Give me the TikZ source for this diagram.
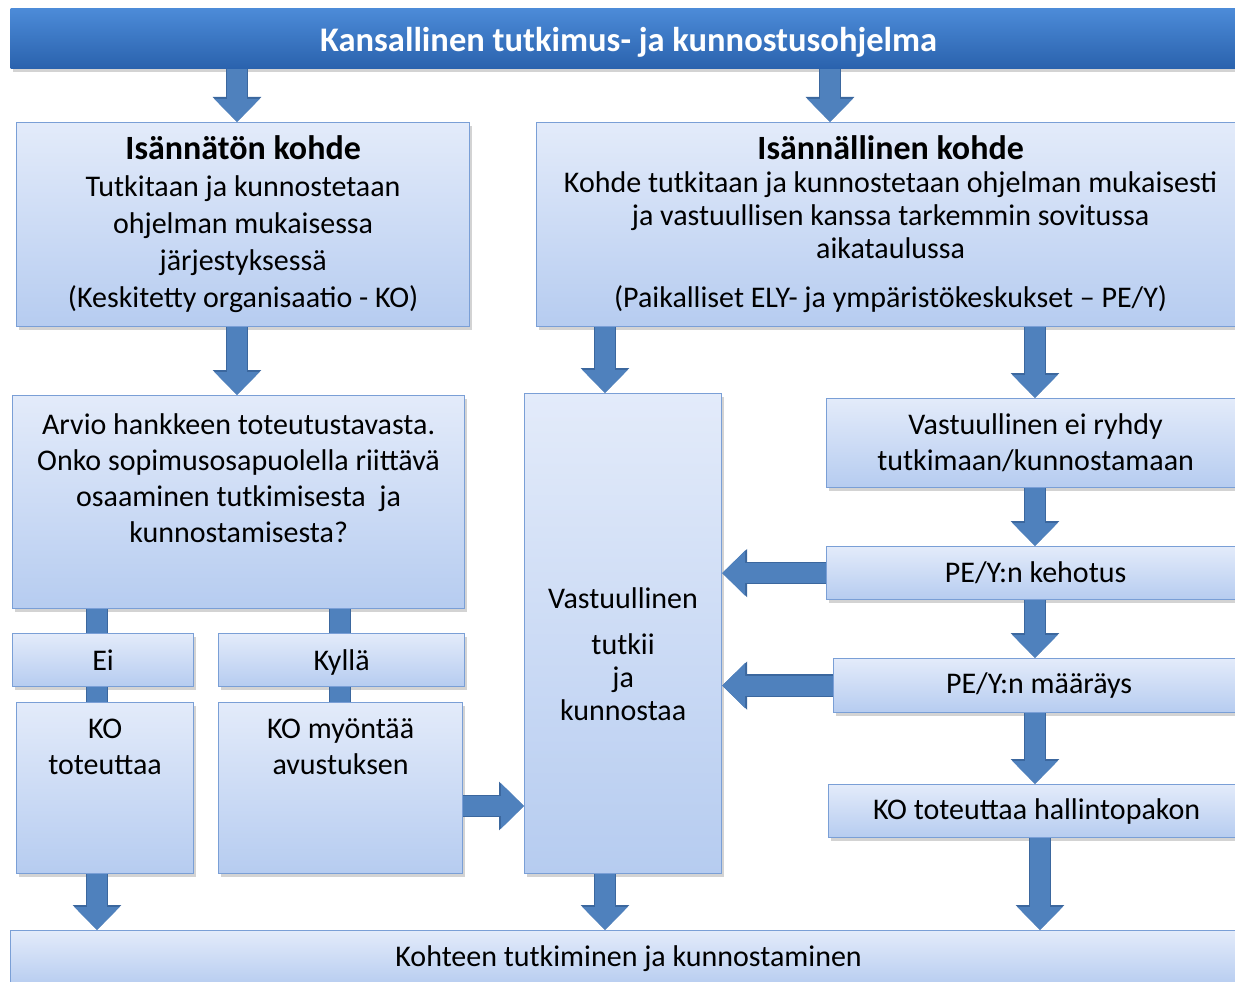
\documentclass[tikz,border=0pt]{standalone}
\usepackage{fontspec}
\setmainfont{Carlito}
\usepackage{xcolor}
\usetikzlibrary{arrows.meta,shadows}
\definecolor{boxtop}{HTML}{E3EBFA}
\definecolor{boxbot}{HTML}{B6CCF0}
\definecolor{boxline}{HTML}{7A9FD6}
\definecolor{bantop}{HTML}{4C8BD8}
\definecolor{banbot}{HTML}{2A62AD}
\definecolor{arrowblue}{HTML}{4F81BD}
\definecolor{arrowedge}{HTML}{3B679E}

\begin{document}
\begin{tikzpicture}[x=1pt,y=-1pt,font=\fontsize{30}{36}\selectfont,
  box/.style={draw=boxline,line width=1.2pt,top color=boxtop,bottom color=boxbot,anchor=north west,inner sep=0pt,align=center,
    drop shadow={shadow xshift=2pt,shadow yshift=-3pt,opacity=0.35}},
  banner/.style={box,draw=none,top color=bantop,bottom color=banbot,text=white,font=\fontsize{34.5}{36}\selectfont\bfseries},
  toptext/.style={anchor=north,align=center,yshift=-13pt},
  flow/.style={arrowblue,line width=20pt,-{Triangle[width=44pt,length=23pt]},
    preaction={draw=arrowedge,line width=22.5pt,-{Triangle[width=47pt,length=25pt]}}},
  link/.style={arrowblue,line width=20pt,preaction={draw=arrowedge,line width=22.5pt}}]
\useasboundingbox(0,0)rectangle(1235,982);
\clip(0,0)rectangle(1235,982);
\node[banner,minimum width=1236pt,minimum height=60pt,text height=27pt,text depth=1pt](ohjelma)at(10,8){Kansallinen tutkimus- ja kunnostusohjelma};
\node[box,minimum width=453pt,minimum height=204pt,font=\fontsize{30}{37}\selectfont](isannaton)at(16,122){{\fontsize{34}{37}\selectfont\bfseries Isännätön kohde}\\Tutkitaan ja kunnostetaan\\ohjelman mukaisessa\\järjestyksessä\\(Keskitetty organisaatio - KO)};
\node[box,minimum width=708pt,minimum height=204pt,font=\fontsize{30}{33}\selectfont](isannallinen)at(536,122){{\fontsize{34}{33}\selectfont\bfseries Isännällinen kohde}\\Kohde tutkitaan ja kunnostetaan ohjelman mukaisesti\\ja vastuullisen kanssa tarkemmin sovitussa\\aikataulussa\\[16pt](Paikalliset ELY- ja ympäristökeskukset -- PE/Y)};
\node[box,minimum width=452pt,minimum height=213pt,label={[toptext,yshift=-2pt]north:Arvio hankkeen toteutustavasta.\\Onko sopimusosapuolella riittävä\\osaaminen tutkimisesta\ \ ja\\kunnostamisesta?}](arvio)at(12,395){};
\node[box,minimum width=197pt,minimum height=480pt,label={[yshift=-21pt,align=center,font=\fontsize{30}{33}\selectfont]center:Vastuullinen\\[13pt]tutkii\\ja\\kunnostaa}](vastuu)at(524,393){};
\node[box,minimum width=418pt,minimum height=89pt](ryhdy)at(826,398){Vastuullinen ei ryhdy\\tutkimaan/kunnostamaan};
\node[box,minimum width=418pt,minimum height=53pt](kehotus)at(826,546){PE/Y:n kehotus};
\node[box,minimum width=411pt,minimum height=54pt](maarays)at(833,658){PE/Y:n määräys};
\node[box,minimum width=416pt,minimum height=53pt](hallinto)at(828,784){KO toteuttaa hallintopakon};
\node[box,minimum width=181pt,minimum height=53pt](ei)at(12,633){Ei};
\node[box,minimum width=246pt,minimum height=53pt,text depth=0pt](kylla)at(218,633){Kyllä};
\node[box,minimum width=177pt,minimum height=171pt,label={[toptext]north:KO\\toteuttaa}](toteuttaa)at(16,702){};
\node[box,minimum width=244pt,minimum height=171pt,label={[toptext]north:KO myöntää\\avustuksen}](myontaa)at(218,702){};
\node[box,minimum width=1236pt,minimum height=56pt](toteutus)at(10,930){Kohteen tutkiminen ja kunnostaminen};
\draw[flow](ohjelma.south-|237,0)--(isannaton.north-|237,0);
\draw[flow](ohjelma.south-|830,0)--(isannallinen.north-|830,0);
\draw[flow](isannaton.south-|237,0)--(arvio.north-|237,0);
\draw[flow](isannallinen.south-|605,0)--(vastuu.north-|605,0);
\draw[flow](isannallinen.south-|1035,0)--(ryhdy.north-|1035,0);
\draw[flow](ryhdy.south-|1035,0)--(kehotus.north-|1035,0);
\draw[flow](kehotus.south-|1035,0)--(maarays.north-|1035,0);
\draw[flow](maarays.south-|1035,0)--(hallinto.north-|1035,0);
\draw[flow](hallinto.south-|1040,0)--(toteutus.north-|1040,0);
\draw[flow](kehotus.west)--(kehotus.west-|vastuu.east);
\draw[flow](maarays.west)--(maarays.west-|vastuu.east);
\draw[flow](myontaa.east|-0,806)--(vastuu.west|-0,806);
\draw[link](arvio.south-|97,0)--(ei.north-|97,0);
\draw[link](ei.south-|97,0)--(toteuttaa.north-|97,0);
\draw[link](arvio.south-|340,0)--(kylla.north-|340,0);
\draw[link](kylla.south-|340,0)--(myontaa.north-|340,0);
\draw[flow](toteuttaa.south-|97,0)--(toteutus.north-|97,0);
\draw[flow](vastuu.south-|605,0)--(toteutus.north-|605,0);
\end{tikzpicture}
\end{document}
